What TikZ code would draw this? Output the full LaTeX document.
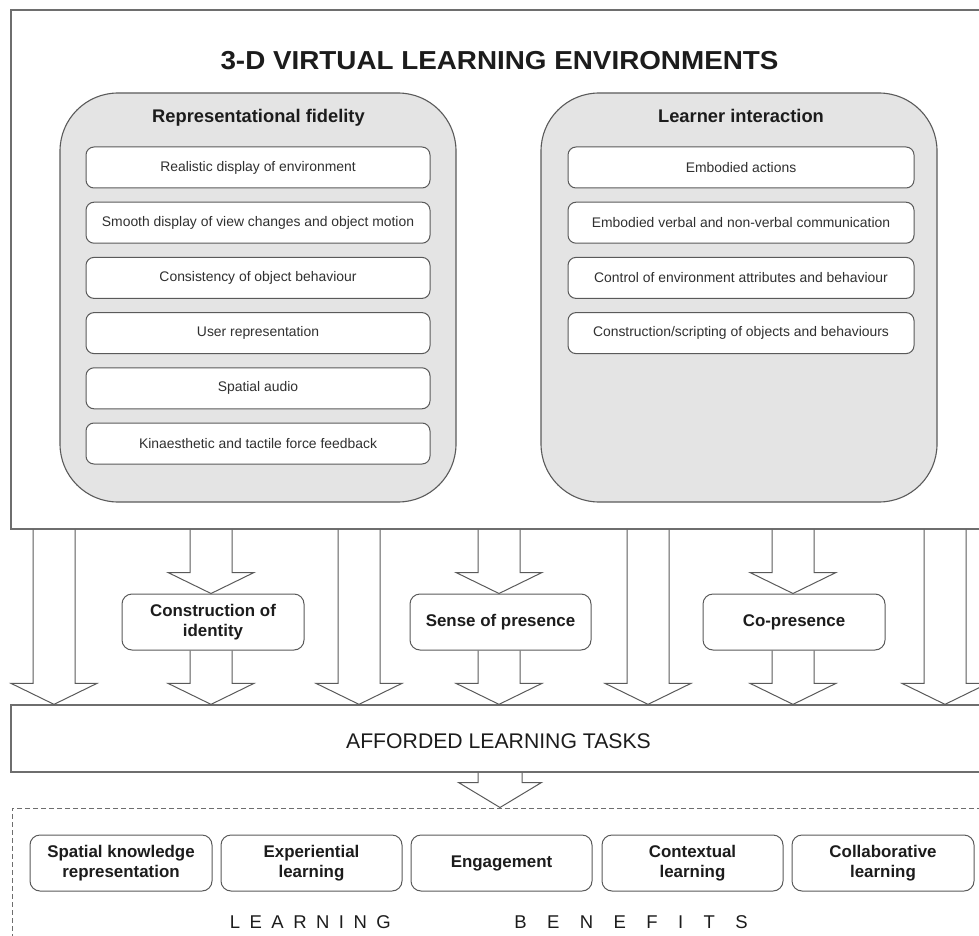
\documentclass[tikz,border=0pt]{standalone}
\usepackage{fontspec}
\setmainfont{Liberation Sans}
\usetikzlibrary{calc}
\definecolor{boxline}{HTML}{6E6E6E}
\definecolor{innerline}{HTML}{5A5A5A}
\definecolor{groupfill}{HTML}{E4E4E4}
\definecolor{txt}{HTML}{1C1C1C}
\definecolor{subtxt}{HTML}{303030}
\tikzset{
  outerbox/.style={draw=boxline, line width=1.3pt, inner sep=0pt},
  groupbox/.style={draw=innerline, fill=groupfill, line width=1.1pt, rounded corners=58pt,
    minimum width=396pt, minimum height=409pt, inner sep=0pt},
  grouptitle/.style={anchor=base, inner sep=0pt, text=txt, font=\fontsize{18.3}{21}\selectfont\bfseries},
  itembox/.style={draw=innerline, fill=white, line width=1pt, rounded corners=8pt,
    minimum height=41pt, inner sep=0pt, text=subtxt, font=\fontsize{13.9}{16}\selectfont},
  midbox/.style={draw=innerline, fill=white, line width=1pt, rounded corners=10pt,
    minimum width=182pt, minimum height=56pt, inner sep=0pt, align=center, text=txt,
    font=\fontsize{16.9}{20.5}\selectfont\bfseries},
  arrowshape/.style={draw=innerline, line width=1pt, line join=miter},
  dashbox/.style={draw=boxline, line width=1pt, dash pattern=on 5pt off 3pt, inner sep=0pt}
}
% #1 centre x, #2 source node, #3 target node, #4 head height, #5 head half width, #6 shaft half width
\newcommand\barrow[6]{%
  \path[arrowshape] let \p1=(#2.south), \p2=(#3.north) in
    (#1pt-#6pt,\y1) -- (#1pt-#6pt,\y2+#4pt) -- (#1pt-#5pt,\y2+#4pt) -- (#1pt,\y2)
    -- (#1pt+#5pt,\y2+#4pt) -- (#1pt+#6pt,\y2+#4pt) -- (#1pt+#6pt,\y1);
}
\begin{document}
\begin{tikzpicture}[x=1pt,y=-1pt]
\useasboundingbox (0,0) rectangle (979,936);
\clip (0,0) rectangle (979,936);

% top container
\node[outerbox, minimum width=979pt, minimum height=519pt] (env) at (500.5,269.5) {};
\node[anchor=base, inner sep=0pt, text=txt, font=\fontsize{26}{30}\selectfont\bfseries] (title) at (499.5,70) {\scalebox{1.07}[1]{3-D VIRTUAL LEARNING ENVIRONMENTS}};

% representational fidelity
\node[groupbox] (repr) at (258,297.5) {};
\node[grouptitle] (reprtitle) at (258.5,122.7) {Representational fidelity};
\node[itembox, minimum width=344pt] (r1) at (258,167.5) {Realistic display of environment};
\node[itembox, minimum width=344pt] (r2) at (258,222.7) {Smooth display of view changes and object motion};
\node[itembox, minimum width=344pt] (r3) at (258,277.9) {Consistency of object behaviour};
\node[itembox, minimum width=344pt] (r4) at (258,333.1) {User representation};
\node[itembox, minimum width=344pt] (r5) at (258,388.3) {Spatial audio};
\node[itembox, minimum width=344pt] (r6) at (258,443.5) {Kinaesthetic and tactile force feedback};

% learner interaction
\node[groupbox] (learn) at (739,297.5) {};
\node[grouptitle] (learntitle) at (741,122.7) {Learner interaction};
\node[itembox, minimum width=346pt] (l1) at (741,167.5) {Embodied actions};
\node[itembox, minimum width=346pt] (l2) at (741,222.7) {Embodied verbal and non-verbal communication};
\node[itembox, minimum width=346pt] (l3) at (741,277.9) {Control of environment attributes and behaviour};
\node[itembox, minimum width=346pt] (l4) at (741,333.1) {Construction/scripting of objects and behaviours};

% mediating outcomes
\node[midbox] (cid) at (213,622) {Construction of\\identity};
\node[midbox, minimum width=181pt] (sop) at (500.5,622) {Sense of presence};
\node[midbox] (cop) at (794,622) {Co-presence};

% afforded learning tasks
\node[outerbox, minimum width=979pt, minimum height=67pt] (aff) at (500.5,738.5) {};
\node[anchor=base, inner sep=0pt, text=txt, font=\fontsize{21.2}{24}\selectfont] (afftext) at (498.5,748) {AFFORDED LEARNING TASKS};

% learning benefits
\node[dashbox, minimum width=990pt, minimum height=150pt] (ben) at (507,883) {};
\node[midbox] (b1) at (121,863) {Spatial knowledge\\representation};
\node[midbox, minimum width=181pt] (b2) at (311.5,863) {Experiential\\learning};
\node[midbox, minimum width=181pt] (b3) at (501.5,863) {Engagement};
\node[midbox, minimum width=181pt] (b4) at (692.5,863) {Contextual\\learning};
\node[midbox] (b5) at (883,863) {Collaborative\\learning};
\node[anchor=base west, inner sep=0pt, text=txt, font=\fontsize{18.5}{22}\selectfont] (bentext) at (229.6,928)
  {{\spaceskip=9.5pt L E A R N I N G}\hspace{123.6pt}{\spaceskip=20.4pt B E N E F I T S}};

% block arrows
\barrow{54}{env}{aff}{21}{43}{21}
\barrow{211}{env}{cid}{21}{43}{21}
\barrow{211}{cid}{aff}{21}{43}{21}
\barrow{359}{env}{aff}{21}{43}{21}
\barrow{499}{env}{sop}{21}{43}{21}
\barrow{499}{sop}{aff}{21}{43}{21}
\barrow{648}{env}{aff}{21}{43}{21}
\barrow{793}{env}{cop}{21}{43}{21}
\barrow{793}{cop}{aff}{21}{43}{21}
\barrow{945}{env}{aff}{21}{43}{21}
\barrow{500}{aff}{ben}{25}{41.5}{22}
\end{tikzpicture}
\end{document}
